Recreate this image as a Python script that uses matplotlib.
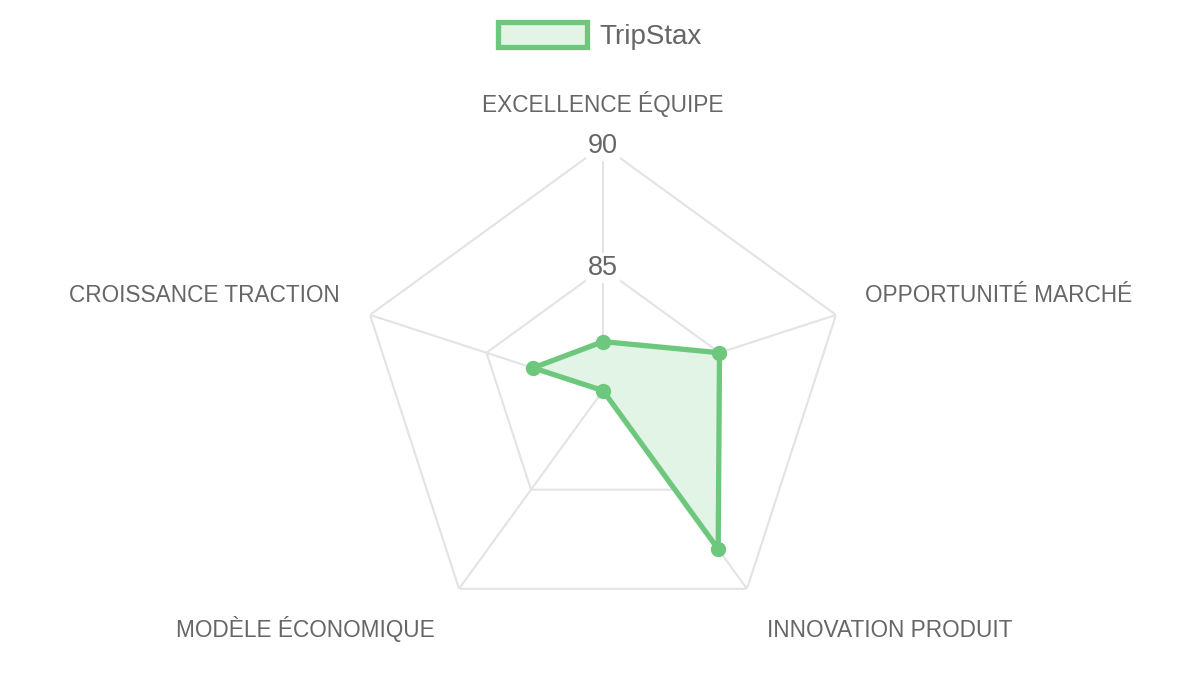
import numpy as np
import matplotlib
matplotlib.use("Agg")
import matplotlib.pyplot as plt
from matplotlib.patches import Patch

plt.rcParams['font.family'] = ['Liberation Sans', 'DejaVu Sans']

categories = ["EXCELLENCE ÉQUIPE", "OPPORTUNITÉ MARCHÉ", "INNOVATION PRODUIT",
              "MODÈLE ÉCONOMIQUE", "CROISSANCE TRACTION"]
values = [82, 85, 88, 80, 83]
series_name = "TripStax"
r_min, r_max = 80, 90
ticks = [85, 90]

line_color = '#6dc87e'
fill_color = '#e1f4e5'
grid_color = '#e3e3e3'
text_color = '#666666'

fig = plt.figure(figsize=(12, 6.75), dpi=100)
ax = fig.add_axes([0.29833, 0.05837, 0.40833, 0.72593], projection='polar')
ax.set_theta_zero_location('N')
ax.set_theta_direction(-1)
ax.set_ylim(r_min, r_max)
ax.grid(False)
ax.spines['polar'].set_visible(False)
ax.set_xticks([])
ax.set_yticks([])
ax.patch.set_alpha(0)

n = len(categories)
theta = np.arange(n) * 2 * np.pi / n
theta_c = np.append(theta, theta[0])

# grid polygons
for t in ticks:
    ax.plot(theta_c, [t] * (n + 1), color=grid_color, lw=1.5, zorder=1)
# spokes
for th in theta:
    ax.plot([th, th], [r_min, r_max], color=grid_color, lw=1.5, zorder=1)

vals_c = values + [values[0]]
ax.fill(theta_c, vals_c, color=fill_color, zorder=2)
ax.plot(theta_c, vals_c, color=line_color, lw=3.8, zorder=3, solid_joinstyle='miter')
ax.plot(theta, values, 'o', color=line_color, ms=10, zorder=4)

# tick labels
for t in ticks:
    ax.text(0, t, str(t), ha='center', va='center', fontsize=19.5, color=text_color,
            zorder=5, bbox=dict(facecolor='white', edgecolor='none', pad=1.5))

# category labels (offsets in pixels -> points), baseline aligned
px = 0.72
offsets = [(0, 33.9, 'center'), (29, 13, 'left'), (20, -48.4, 'left'),
           (-24, -48.4, 'right'), (-30, 13, 'right')]
for th, lab, (dx, dy, ha) in zip(theta, categories, offsets):
    ax.annotate(lab, xy=(th, r_max), xytext=(dx * px, dy * px), textcoords='offset points',
                ha=ha, va='baseline', fontsize=16.3, color=text_color, annotation_clip=False)

handle = Patch(facecolor=fill_color, edgecolor=line_color, linewidth=3.8, label=series_name)
fig.legend(handles=[handle], loc='center', bbox_to_anchor=(0.5, 1 - 36 / 675),
           frameon=False, fontsize=20, handlelength=3.2, handleheight=1.0,
           handletextpad=0.45, labelcolor=text_color)

fig.savefig('out.png', dpi=100)
